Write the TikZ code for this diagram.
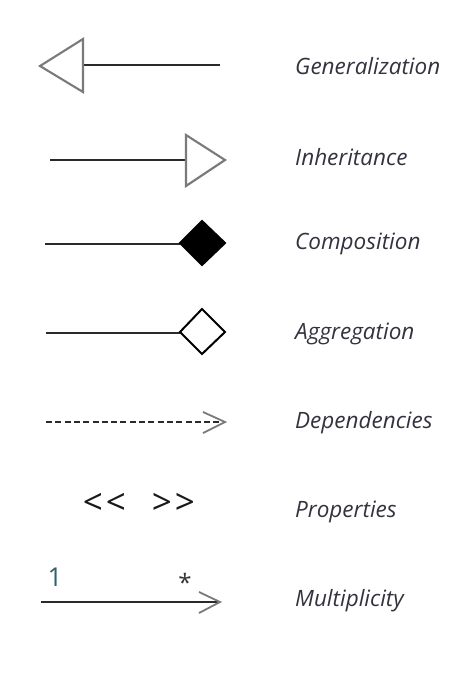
\documentclass[tikz,border=0pt]{standalone}
\usepackage{fontspec}
\setmainfont{Open Sans}
\usetikzlibrary{arrows.meta}
\definecolor{linec}{HTML}{2A2A2A}
\definecolor{headc}{HTML}{7A7A7A}
\definecolor{txtc}{HTML}{333340}
\definecolor{onec}{HTML}{2E6070}
\begin{document}
\begin{tikzpicture}[x=1pt,y=-1pt,
  lbl/.style={anchor=west,inner sep=0pt,font=\fontsize{22.5}{26}\selectfont\itshape,text=txtc},
  conn/.style={draw=linec,line width=2.1pt},
  tri/.style={draw=headc,line width=2.1pt,fill=white,line join=miter},
  dia/.style={draw=black,line width=2pt,line join=miter},
  openhead/.style={draw=headc,line width=1.8pt},
  sym/.style={inner sep=0pt,font=\fontsize{35}{40}\selectfont\addfontfeatures{Ligatures=NoCommon},text=black!90}]
\useasboundingbox (0,0) rectangle (474,678);
% Generalization
\coordinate (g1) at (83,65);
\coordinate (g2) at (220,65);
\draw[conn] (g1) -- (g2);
\draw[tri] (40,66) -- (83,39) -- (83,92) -- cycle;
\node[lbl] (lg) at (295,66) {Generalization};
% Inheritance
\coordinate (i1) at (50,160);
\coordinate (i2) at (186,160);
\draw[conn] (i1) -- (i2);
\draw[tri] (225,160) -- (186,135) -- (186,186) -- cycle;
\node[lbl] (li) at (295,157) {Inheritance};
% Composition
\coordinate (c1) at (45,244);
\coordinate (c2) at (180,244);
\draw[conn] (c1) -- (c2);
\draw[dia,fill=black] (180,243) -- (202,221) -- (225,243) -- (202,265) -- cycle;
\node[lbl] (lc) at (295,244) {Composition};
% Aggregation
\coordinate (a1) at (46,333);
\coordinate (a2) at (180,333);
\draw[conn] (a1) -- (a2);
\draw[dia,fill=white] (180,332) -- (202,309) -- (225,332) -- (202,354) -- cycle;
\node[lbl] (la) at (295,334) {Aggregation};
% Dependencies
\coordinate (d1) at (46,422);
\coordinate (d2) at (224,422);
\draw[conn,line width=2.6pt,dash pattern=on 6pt off 3.3pt] (d1) -- (d2);
\draw[openhead] (203,412) -- (225,422) -- (203,433);
\node[lbl] (ld) at (295,423) {Dependencies};
% Properties
\node[sym] (pl) at (104.5,503.5) {<\kern3pt<};
\node[sym] (pr) at (173.5,503.5) {>\kern3pt>};
\node[lbl] (lp) at (295,512) {Properties};
% Multiplicity
\coordinate (m1) at (41,602);
\coordinate (m2) at (219,602);
\draw[conn] (m1) -- (m2);
\draw[openhead] (199,592) -- (220,602) -- (199,613);
\node[inner sep=0pt,font=\fontsize{26}{30}\selectfont,text=onec] (one) at (55,577) {1};
\node[inner sep=0pt,font=\fontsize{24}{28}\selectfont,text=black!80] (star) at (185,582) {*};
\node[lbl] (lm) at (295,601) {Multiplicity};
\end{tikzpicture}
\end{document}
